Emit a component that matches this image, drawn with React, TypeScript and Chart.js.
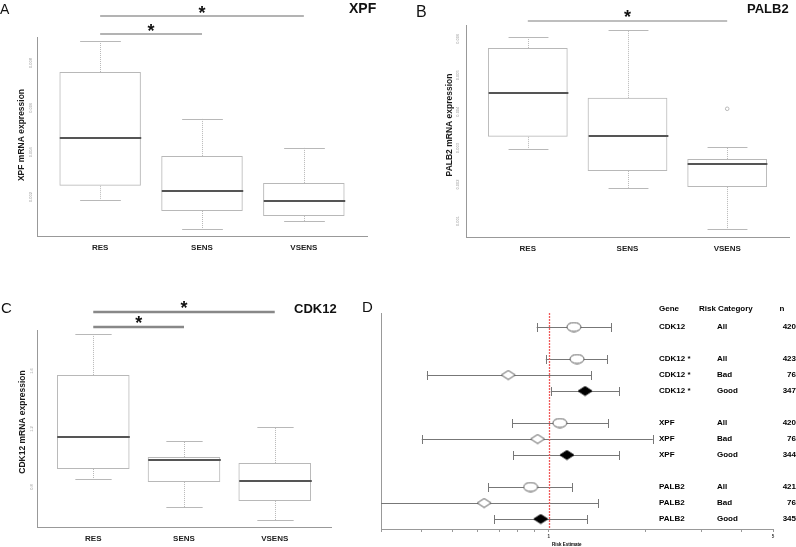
import React, { useEffect, useRef } from "react";
import { Chart, registerables } from "chart.js";
Chart.register(...registerables);

const FONT = "'Liberation Sans', Arial, sans-serif";

const categories = ["RES", "SENS", "VSENS"];

// Panel A – XPF
const xpfMin = [0.00187, 0.00056, 0.00092];
const xpfQ1 = [0.0025, 0.00137, 0.00115];
const xpfMedian = [0.00465, 0.00227, 0.00182];
const xpfQ3 = [0.0076, 0.00384, 0.00263];
const xpfMax = [0.009, 0.0055, 0.0042];
const xpfOutliers: number[][] = [[], [], []];
const xpfTicks = [0.002, 0.004, 0.006, 0.008];
const xpfSig: [string, string][] = [["RES", "VSENS"], ["RES", "SENS"]];

// Panel B – PALB2
const palb2Min = [0.00298, 0.00191, 0.00078];
const palb2Q1 = [0.00331, 0.00237, 0.00193];
const palb2Median = [0.00452, 0.00334, 0.00257];
const palb2Q3 = [0.00575, 0.00438, 0.0027];
const palb2Max = [0.00605, 0.00625, 0.00303];
const palb2Outliers: number[][] = [[], [], [0.00408]];
const palb2Ticks = [0.001, 0.002, 0.003, 0.004, 0.005, 0.006];
const palb2Sig: [string, string][] = [["RES", "VSENS"]];

// Panel C – CDK12
const cdk12Min = [0.855, 0.662, 0.572];
const cdk12Q1 = [0.924, 0.834, 0.703];
const cdk12Median = [1.145, 0.986, 0.841];
const cdk12Q3 = [1.573, 1.007, 0.966];
const cdk12Max = [1.855, 1.117, 1.214];
const cdk12Outliers: number[][] = [[], [], []];
const cdk12Ticks = [0.8, 1.2, 1.6];
const cdk12Sig: [string, string][] = [["RES", "VSENS"], ["RES", "SENS"]];

// Panel D – forest plot
const forestGenes = ["CDK12", "CDK12 *", "CDK12 *", "CDK12 *", "XPF", "XPF", "XPF", "PALB2", "PALB2", "PALB2"];
const forestRisk = ["All", "All", "Bad", "Good", "All", "Bad", "Good", "All", "Bad", "Good"];
const forestN = [420, 423, 76, 347, 420, 76, 344, 421, 76, 345];
const forestGroup = [0, 1, 1, 1, 2, 2, 2, 3, 3, 3];
const forestEst = [1.198, 1.225, 0.748, 1.298, 1.083, 0.923, 1.139, 0.878, 0.629, 0.944];
const forestLow = [0.917, 0.979, 0.417, 1.015, 0.77, 0.402, 0.776, 0.648, 0.28, 0.676];
const forestHigh = [1.567, 1.522, 1.356, 1.66, 1.533, 2.11, 1.66, 1.181, 1.426, 1.317];
const forestXTicks = [0.3, 0.4, 0.5, 0.6, 0.7, 0.8, 0.9, 1, 2, 3, 4, 5];
const forestXLabels = [1, 5];

const px = (v: number) => Math.round(v) + 0.5;

function line(ctx: CanvasRenderingContext2D, x1: number, y1: number, x2: number, y2: number) {
  ctx.beginPath();
  ctx.moveTo(x1, y1);
  ctx.lineTo(x2, y2);
  ctx.stroke();
}

type BoxSpec = {
  min: number[]; q1: number[]; median: number[]; q3: number[]; max: number[];
  outliers: number[][]; ticks: number[]; sig: [string, string][];
  yMin: number; yMax: number; letter: string; title: string; yTitle: string;
};

type BoxLayout = {
  left: number; top: number; width: number; height: number;
  area: { l: number; t: number; r: number; b: number };
  letter: { x: number; y: number; size: number };
  title: { x: number; y: number; size: number };
  yTitle: { x: number; y: number };
  tickX: number;
  sigY: number[]; sigColor: string; sigWidth: number; starDy: number;
};

const boxPlugin = {
  id: "boxExtras",
  afterDatasetsDraw(chart: any) {
    const o = chart.options.plugins.boxExtras as { spec: BoxSpec; lay: BoxLayout };
    const { spec, lay } = o;
    const ctx: CanvasRenderingContext2D = chart.ctx;
    const x = chart.scales.x;
    const y = chart.scales.y;
    const meta = chart.getDatasetMeta(0);
    ctx.save();
    spec.q1.forEach((_, i) => {
      const bar = meta.data[i];
      const cx = px(x.getPixelForValue(i + 1));
      const w = bar.width;
      ctx.strokeStyle = "#b8b8b8";
      ctx.lineWidth = 1;
      ctx.setLineDash([1, 1]);
      line(ctx, cx, y.getPixelForValue(spec.q3[i]), cx, y.getPixelForValue(spec.max[i]));
      line(ctx, cx, y.getPixelForValue(spec.q1[i]), cx, y.getPixelForValue(spec.min[i]));
      ctx.setLineDash([]);
      const yMax = px(y.getPixelForValue(spec.max[i]));
      const yMin = px(y.getPixelForValue(spec.min[i]));
      line(ctx, cx - w / 4, yMax, cx + w / 4, yMax);
      line(ctx, cx - w / 4, yMin, cx + w / 4, yMin);
      ctx.strokeStyle = "#555";
      ctx.lineWidth = 2;
      const ym = Math.round(y.getPixelForValue(spec.median[i]));
      line(ctx, cx - w / 2, ym, cx + w / 2, ym);
    });
    // y tick labels (rotated)
    ctx.fillStyle = "#9a9a9a";
    ctx.font = `4px ${FONT}`;
    ctx.textAlign = "center";
    ctx.textBaseline = "middle";
    spec.ticks.forEach((t) => {
      ctx.save();
      ctx.translate(lay.tickX, y.getPixelForValue(t));
      ctx.rotate(-Math.PI / 2);
      ctx.fillText(String(t), 0, 0);
      ctx.restore();
    });
    // y title
    ctx.save();
    ctx.fillStyle = "#1a1a1a";
    ctx.font = `bold 8.5px ${FONT}`;
    ctx.translate(lay.yTitle.x, lay.yTitle.y);
    ctx.rotate(-Math.PI / 2);
    ctx.fillText(spec.yTitle, 0, 0);
    ctx.restore();
    // significance bars
    spec.sig.forEach((pair, k) => {
      const a = x.getPixelForValue(categories.indexOf(pair[0]) + 1);
      const b = x.getPixelForValue(categories.indexOf(pair[1]) + 1);
      const sy = lay.sigY[k];
      ctx.strokeStyle = lay.sigColor;
      ctx.lineWidth = lay.sigWidth;
      line(ctx, a, sy, b, sy);
      ctx.fillStyle = "#111";
      ctx.font = `bold 18px ${FONT}`;
      ctx.textAlign = "center";
      ctx.textBaseline = "alphabetic";
      ctx.fillText("*", (a + b) / 2, sy - lay.starDy + 10);
    });
    // letter and title
    ctx.textAlign = "left";
    ctx.textBaseline = "alphabetic";
    ctx.fillStyle = "#111";
    ctx.font = `${lay.letter.size}px ${FONT}`;
    ctx.fillText(spec.letter, lay.letter.x, lay.letter.y);
    ctx.font = `bold ${lay.title.size}px ${FONT}`;
    ctx.fillText(spec.title, lay.title.x, lay.title.y);
    ctx.restore();
  },
};

function boxConfig(spec: BoxSpec, lay: BoxLayout): any {
  const outlierPts: { x: number; y: number }[] = [];
  spec.outliers.forEach((arr, i) => arr.forEach((v) => outlierPts.push({ x: i + 1, y: v })));
  return {
    type: "bar",
    data: {
      datasets: [
        {
          type: "bar",
          data: categories.map((c, i) => ({ x: i + 1, y: [spec.q1[i], spec.q3[i]] })),
          backgroundColor: "rgba(0,0,0,0)",
          borderColor: "#b8b8b8",
          borderWidth: 1,
          borderSkipped: false,
          categoryPercentage: 1,
          barPercentage: 0.8,
        },
        {
          type: "scatter",
          data: outlierPts,
          pointStyle: "circle",
          radius: 1.8,
          borderColor: "#b8b8b8",
          backgroundColor: "rgba(0,0,0,0)",
          borderWidth: 1,
        },
      ],
    },
    options: {
      animation: false,
      responsive: false,
      events: [],
      layout: { padding: { left: 0, top: lay.area.t, right: lay.width - lay.area.r, bottom: 0 } },
      plugins: { legend: { display: false }, tooltip: { enabled: false }, boxExtras: { spec, lay } },
      scales: {
        x: {
          type: "linear",
          min: 0.38,
          max: 3.62,
          offset: false,
          grid: { display: false, drawTicks: false },
          border: { display: true, color: "#999" },
          ticks: {
            padding: 7,
            color: "#222",
            font: { family: FONT, size: 8, weight: "bold" },
            callback: (v: number) => categories[Math.round(v) - 1] ?? "",
          },
          afterBuildTicks: (s: any) => {
            s.ticks = categories.map((c, i) => ({ value: i + 1 }));
          },
          afterFit: (s: any) => {
            s.height = lay.height - lay.area.b;
          },
        },
        y: {
          type: "linear",
          min: spec.yMin,
          max: spec.yMax,
          grid: { display: false, drawTicks: false },
          border: { display: true, color: "#999" },
          ticks: { display: false },
          afterBuildTicks: (s: any) => {
            s.ticks = spec.ticks.map((v) => ({ value: v }));
          },
          afterFit: (s: any) => {
            s.width = lay.area.l;
          },
        },
      },
    },
    plugins: [boxPlugin],
  };
}

function makeMarker(kind: "ellipse" | "diamond" | "filled"): HTMLCanvasElement {
  const c = document.createElement("canvas");
  c.width = 16;
  c.height = 11;
  const g = c.getContext("2d")!;
  g.lineWidth = 1;
  g.strokeStyle = "#555";
  if (kind === "ellipse") {
    g.beginPath();
    g.ellipse(8, 5.5, 7, 4.5, 0, 0, Math.PI * 2);
    g.fillStyle = "#fff";
    g.fill();
    g.stroke();
  } else {
    g.beginPath();
    g.moveTo(1, 5.5);
    g.lineTo(8, 1);
    g.lineTo(15, 5.5);
    g.lineTo(8, 10);
    g.closePath();
    if (kind === "filled") {
      g.fillStyle = "#000";
      g.strokeStyle = "#000";
    } else {
      g.fillStyle = "#fff";
    }
    g.fill();
    g.stroke();
  }
  return c;
}

const forestPos = forestGroup.map((g, i) => i + g);

const forestPlugin = {
  id: "forestExtras",
  beforeDatasetsDraw(chart: any) {
    const ctx: CanvasRenderingContext2D = chart.ctx;
    const x = chart.scales.x;
    const y = chart.scales.y;
    const a = chart.chartArea;
    ctx.save();
    // CI bars
    ctx.save();
    ctx.beginPath();
    ctx.rect(a.left, a.top - 10, a.right - a.left, a.bottom - a.top + 20);
    ctx.clip();
    ctx.strokeStyle = "#777";
    ctx.lineWidth = 1;
    forestEst.forEach((_, i) => {
      const yy = px(y.getPixelForValue(forestPos[i]));
      const lo = x.getPixelForValue(forestLow[i]);
      const hi = x.getPixelForValue(forestHigh[i]);
      line(ctx, lo, yy, hi, yy);
      if (lo >= a.left) line(ctx, px(lo), yy - 4.5, px(lo), yy + 4.5);
      line(ctx, px(hi), yy - 4.5, px(hi), yy + 4.5);
    });
    ctx.restore();
    // reference line at 1
    ctx.strokeStyle = "rgb(240, 90, 90)";
    ctx.lineWidth = 1.3;
    ctx.setLineDash([2, 1]);
    const x1 = Math.round(x.getPixelForValue(1)) + 0.5;
    line(ctx, x1, a.top, x1, a.bottom);
    ctx.setLineDash([]);
    ctx.restore();
  },
  afterDraw(chart: any) {
    const ctx: CanvasRenderingContext2D = chart.ctx;
    const y = chart.scales.y;
    const x = chart.scales.x;
    ctx.save();
    ctx.fillStyle = "#000";
    ctx.textBaseline = "middle";
    ctx.font = `bold 8px ${FONT}`;
    ctx.textAlign = "left";
    ctx.fillText("Gene", 309, 39);
    ctx.fillText("Risk Category", 349, 39);
    ctx.textAlign = "center";
    ctx.fillText("n", 432, 39);
    forestGenes.forEach((g, i) => {
      const yy = y.getPixelForValue(forestPos[i]);
      ctx.textAlign = "left";
      ctx.fillText(g, 309, yy);
      ctx.fillText(forestRisk[i], 367, yy);
      ctx.textAlign = "right";
      ctx.fillText(String(forestN[i]), 446, yy);
    });
    ctx.textAlign = "center";
    ctx.font = `bold 4.5px ${FONT}`;
    ctx.fillText("Risk Estimate", x.getPixelForValue(1) + 18, 275);
    ctx.textAlign = "left";
    ctx.textBaseline = "alphabetic";
    ctx.font = `15px ${FONT}`;
    ctx.fillStyle = "#111";
    ctx.fillText("D", 12, 42);
    ctx.restore();
  },
};

function forestConfig(width: number, height: number): any {
  const area = { l: 31, t: 43, r: 423, b: 259 };
  const ellipse = makeMarker("ellipse");
  const diamond = makeMarker("diamond");
  const filled = makeMarker("filled");
  const pick = (risk: string) =>
    forestEst.map((v, i) => ({ x: v, y: forestPos[i], r: forestRisk[i] })).filter((p) => p.r === risk);
  return {
    type: "scatter",
    data: {
      datasets: [
        { data: pick("All"), pointStyle: ellipse },
        { data: pick("Bad"), pointStyle: diamond },
        { data: pick("Good"), pointStyle: filled },
      ],
    },
    options: {
      animation: false,
      responsive: false,
      events: [],
      layout: { padding: { left: 0, top: area.t, right: width - area.r, bottom: 0 } },
      plugins: { legend: { display: false }, tooltip: { enabled: false } },
      scales: {
        x: {
          type: "logarithmic",
          min: 0.3,
          max: 5,
          grid: { display: true, drawOnChartArea: false, drawTicks: true, tickLength: 3, color: "#999" },
          border: { display: true, color: "#999" },
          ticks: {
            padding: 2,
            color: "#333",
            autoSkip: false,
            maxRotation: 0,
            font: { family: FONT, size: 4.5, weight: "bold" },
            callback: (v: number) => (forestXLabels.includes(v) ? String(v) : ""),
          },
          afterBuildTicks: (s: any) => {
            s.ticks = forestXTicks.map((v) => ({ value: v }));
          },
          afterFit: (s: any) => {
            s.height = height - area.b;
          },
        },
        y: {
          type: "linear",
          min: -0.875,
          max: 12.625,
          reverse: true,
          grid: { display: false, drawTicks: false },
          border: { display: true, color: "#999" },
          ticks: { display: false },
          afterFit: (s: any) => {
            s.width = area.l;
          },
        },
      },
    },
    plugins: [forestPlugin],
  };
}

function ChartCanvas(props: { left: number; top: number; width: number; height: number; make: () => any }) {
  const ref = useRef<HTMLCanvasElement>(null);
  useEffect(() => {
    if (!ref.current) return;
    const chart = new Chart(ref.current, props.make());
    return () => chart.destroy();
  }, []);
  return (
    <canvas
      ref={ref}
      width={props.width}
      height={props.height}
      style={{ position: "absolute", left: props.left, top: props.top, width: props.width, height: props.height }}
    />
  );
}

const specA: BoxSpec = {
  min: xpfMin, q1: xpfQ1, median: xpfMedian, q3: xpfQ3, max: xpfMax, outliers: xpfOutliers,
  ticks: xpfTicks, sig: xpfSig, yMin: 0.00025, yMax: 0.00917,
  letter: "A", title: "XPF", yTitle: "XPF mRNA expression",
};
const layA: BoxLayout = {
  left: 0, top: 0, width: 398, height: 270,
  area: { l: 37, t: 37, r: 367, b: 236 },
  letter: { x: 0, y: 14, size: 14 }, title: { x: 349, y: 13, size: 14 },
  yTitle: { x: 22, y: 135 }, tickX: 31,
  sigY: [16, 34], sigColor: "#9a9a9a", sigWidth: 1.5, starDy: 7,
};

const specB: BoxSpec = {
  min: palb2Min, q1: palb2Q1, median: palb2Median, q3: palb2Q3, max: palb2Max, outliers: palb2Outliers,
  ticks: palb2Ticks, sig: palb2Sig, yMin: 0.00056, yMax: 0.00638,
  letter: "B", title: "PALB2", yTitle: "PALB2 mRNA expression",
};
const layB: BoxLayout = {
  left: 398, top: 0, width: 398, height: 270,
  area: { l: 68, t: 25, r: 391, b: 237 },
  letter: { x: 18, y: 17, size: 16 }, title: { x: 349, y: 13, size: 13 },
  yTitle: { x: 52, y: 125 }, tickX: 60,
  sigY: [21], sigColor: "#a8a8a8", sigWidth: 1.5, starDy: 8,
};

const specC: BoxSpec = {
  min: cdk12Min, q1: cdk12Q1, median: cdk12Median, q3: cdk12Q3, max: cdk12Max, outliers: cdk12Outliers,
  ticks: cdk12Ticks, sig: cdk12Sig, yMin: 0.524, yMax: 1.883,
  letter: "C", title: "CDK12", yTitle: "CDK12 mRNA expression",
};
const layC: BoxLayout = {
  left: 0, top: 270, width: 350, height: 277,
  area: { l: 37, t: 60, r: 331, b: 257 },
  letter: { x: 1, y: 43, size: 15 }, title: { x: 294, y: 43, size: 13 },
  yTitle: { x: 23, y: 152 }, tickX: 32,
  sigY: [42, 57], sigColor: "#888", sigWidth: 2.5, starDy: 8,
};

export default function App() {
  return (
    <div style={{ position: "absolute", left: 0, top: 0, width: 796, height: 547, background: "#fff", overflow: "hidden" }}>
      <ChartCanvas left={layA.left} top={layA.top} width={layA.width} height={layA.height} make={() => boxConfig(specA, layA)} />
      <ChartCanvas left={layB.left} top={layB.top} width={layB.width} height={layB.height} make={() => boxConfig(specB, layB)} />
      <ChartCanvas left={layC.left} top={layC.top} width={layC.width} height={layC.height} make={() => boxConfig(specC, layC)} />
      <ChartCanvas left={350} top={270} width={446} height={277} make={() => forestConfig(446, 277)} />
    </div>
  );
}
